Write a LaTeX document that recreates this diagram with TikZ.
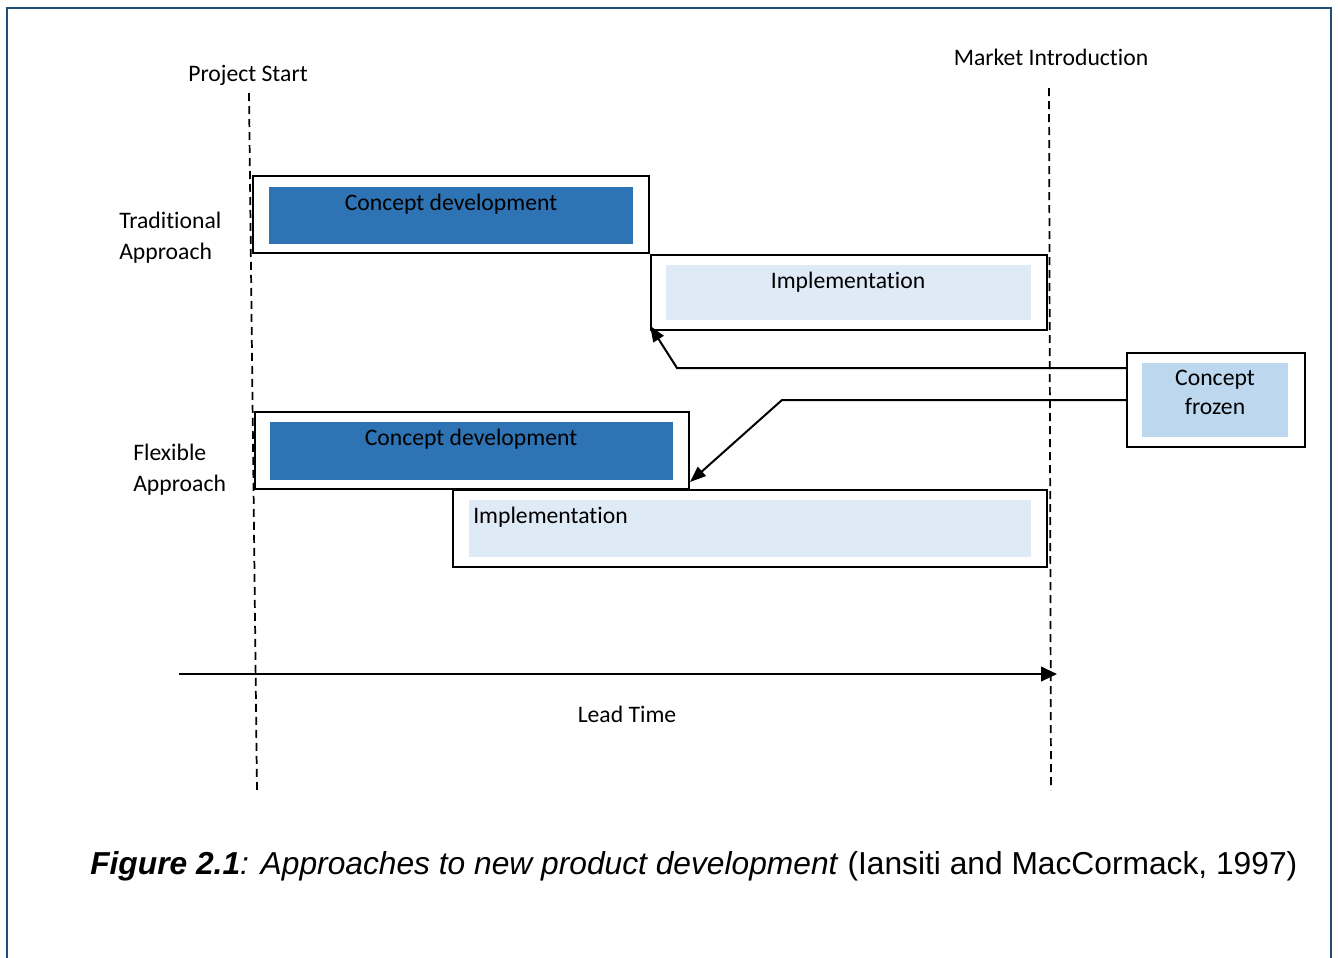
\documentclass[tikz,border=0pt]{standalone}
\usepackage{fontspec}
\setmainfont{Carlito}[RawFeature={-liga;-clig;-calt;-dlig}]
\newfontfamily\capfont{Liberation Sans}
\usetikzlibrary{arrows.meta,fit,calc}

\definecolor{borderblue}{HTML}{1F4E79}
\definecolor{conceptblue}{HTML}{2E74B5}
\definecolor{implblue}{HTML}{DEEAF6}
\definecolor{frozenblue}{HTML}{BDD7EE}

\begin{document}
\begin{tikzpicture}[x=0.75pt,y=-0.75pt,
  outerbox/.style={draw=black, line width=1.5pt, inner sep=0pt},
  conceptfill/.style={draw=none, fill=conceptblue, inner sep=0pt},
  implfill/.style={draw=none, fill=implblue, inner sep=0pt},
  frozenfill/.style={draw=none, fill=frozenblue, inner sep=0pt},
  lbl/.style={font=\fontsize{17.75}{23.25}\selectfont, inner sep=0pt, text=black},
  timeline/.style={dash pattern=on 6pt off 3.75pt, line width=1.3pt},
  conn/.style={line width=1.5pt, -{Triangle[length=12pt,width=9pt]}},
]
\useasboundingbox (0,0) rectangle (1338,957);
\clip (0,0) rectangle (1338,957);

% page frame
\draw[borderblue, line width=1.6pt] (7,975) -- (7,8) -- (1331,8) -- (1331,975);

% milestone lines
\coordinate (ps0) at (249,93);
\coordinate (ps1) at (257,793);
\coordinate (mi0) at (1049,88);
\coordinate (mi1) at (1051,790);
\draw[timeline] (ps0) -- (ps1);
\draw[timeline] (mi0) -- (mi1);
\node[lbl, anchor=base] (pstxt) at (248,81) {Project Start};
\node[lbl, anchor=base] (mitxt) at (1051,65) {Market Introduction};

% traditional approach
\node[lbl, anchor=base west, align=left] (trad) at (119,259) {Traditional\\Approach};
\node[outerbox, fit={(253,176) (649,253)}] (tcd) {};
\node[conceptfill, fit={(269,187) (633,244)}] (tcdfill) {};
\node[lbl, anchor=base] (tcdtxt) at (451,210) {Concept development};
\node[outerbox, fit={(651,255) (1047,330)}] (tim) {};
\node[implfill, fit={(666,265) (1031,320)}] (timfill) {};
\node[lbl, anchor=base] (timtxt) at (848,288) {Implementation};

% flexible approach
\node[lbl, anchor=base west, align=left] (flex) at (133,491) {Flexible\\Approach};
\node[outerbox, fit={(255,412) (689,489)}] (fcd) {};
\node[conceptfill, fit={(270,422) (673,480)}] (fcdfill) {};
\node[lbl, anchor=base] (fcdtxt) at (471,445) {Concept development};
\node[outerbox, fit={(453,490) (1047,567)}] (fim) {};
\node[implfill, fit={(469,500) (1031,557)}] (fimfill) {};
\node[lbl, anchor=base west] (fimtxt) at (473,523) {Implementation};

% concept frozen milestone
\node[outerbox, fit={(1127,353) (1305,447)}] (cf) {};
\node[frozenfill, fit={(1142,363) (1288,437)}] (cffill) {};
\node[lbl, anchor=base, align=center, font=\fontsize{17.75}{21.5}\selectfont] (cftxt) at (1215,414) {Concept\\frozen};

\coordinate (a1bend) at (677,368);
\coordinate (a2bend) at (782,400);
\draw[conn] ([yshift=24pt]cf.west) -- (a1bend) -- ([yshift=4pt]tim.south west);
\draw[conn] (cf.west) -- (a2bend) -- ([yshift=6pt]fcd.south east);

% lead time axis
\coordinate (lt0) at (179,674);
\coordinate (lt1) at (1057,674);
\draw[line width=1.5pt, -{Triangle[length=12pt,width=11pt]}] (lt0) -- (lt1);
\node[lbl, anchor=base] (lttxt) at (627,722) {Lead Time};

% caption
\node[anchor=base west, inner sep=0pt] (caption) at (90,874)
  {\resizebox{905.25pt}{!}{\capfont\fontsize{24}{28}\selectfont
   \textbf{\textit{Figure 2.1}}\textit{: Approaches to new product development} (Iansiti and MacCormack, 1997)}};
\end{tikzpicture}
\end{document}
